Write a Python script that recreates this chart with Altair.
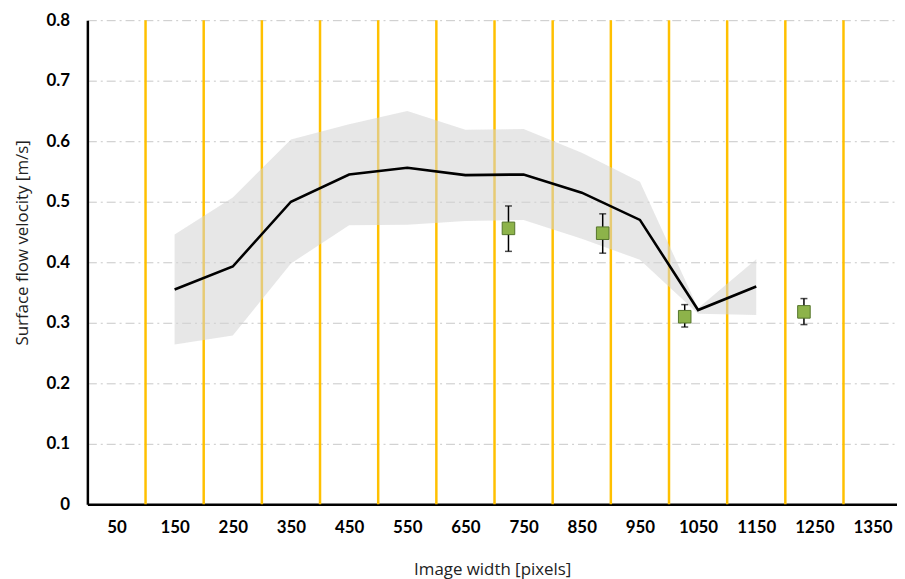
import altair as alt
import pandas as pd

# Model curve (mean with min/max band)
x_line = [150, 250, 350, 450, 550, 650, 750, 850, 950, 1050, 1150]
v_mean = [0.355, 0.393, 0.500, 0.545, 0.556, 0.544, 0.545, 0.515, 0.470, 0.321, 0.360]
v_upper = [0.446, 0.507, 0.603, 0.628, 0.650, 0.619, 0.620, 0.581, 0.533, 0.324, 0.405]
v_lower = [0.264, 0.279, 0.398, 0.461, 0.462, 0.468, 0.470, 0.439, 0.404, 0.315, 0.313]

# Measured points with error bars
x_meas = [724, 886, 1027, 1232]
v_meas = [0.456, 0.448, 0.310, 0.318]
v_meas_hi = [0.493, 0.480, 0.330, 0.340]
v_meas_lo = [0.418, 0.415, 0.293, 0.297]

# Orange section boundaries
x_bounds = [100, 200, 300, 400, 500, 600, 700, 800, 900, 1000, 1100, 1200, 1300]
x_ticks = [50, 150, 250, 350, 450, 550, 650, 750, 850, 950, 1050, 1150, 1250, 1350]
y_ticks = [0, 0.1, 0.2, 0.3, 0.4, 0.5, 0.6, 0.7, 0.8]

line_df = pd.DataFrame({"x": x_line, "mean": v_mean, "upper": v_upper, "lower": v_lower})
meas_df = pd.DataFrame({"x": x_meas, "v": v_meas, "hi": v_meas_hi, "lo": v_meas_lo})
bounds_df = pd.DataFrame({"x": x_bounds})

xscale = alt.Scale(domain=[0, 1392], nice=False, zero=False)
yscale = alt.Scale(domain=[0, 0.8], nice=False)

xaxis = alt.Axis(values=x_ticks, title="Image width [pixels]", grid=False, ticks=False,
                 labelPadding=15, titlePadding=27, format="d")
yaxis = alt.Axis(values=y_ticks, title="Surface flow velocity [m/s]", grid=True, ticks=False,
                 labelPadding=18, titlePadding=15, titleY=224,
                 labelExpr="datum.value == 0 ? '0' : format(datum.value, '.1f')")

rules = alt.Chart(bounds_df).mark_rule(color="#FFC000", strokeWidth=2.5).encode(
    x=alt.X("x:Q", scale=xscale, axis=xaxis),
)

band = alt.Chart(line_df).mark_area(color="#d4d4d4", opacity=0.55).encode(
    x=alt.X("x:Q", scale=xscale, axis=xaxis),
    y=alt.Y("upper:Q", scale=yscale, axis=yaxis),
    y2="lower:Q",
)

line = alt.Chart(line_df).mark_line(color="black", strokeWidth=2.6).encode(
    x=alt.X("x:Q", scale=xscale),
    y=alt.Y("mean:Q", scale=yscale),
)

err = alt.Chart(meas_df).mark_rule(color="black", strokeWidth=1.5).encode(
    x=alt.X("x:Q", scale=xscale),
    y=alt.Y("lo:Q", scale=yscale),
    y2="hi:Q",
)
cap_hi = alt.Chart(meas_df).mark_tick(color="black", orient="horizontal", size=7, thickness=1.5).encode(
    x=alt.X("x:Q", scale=xscale),
    y=alt.Y("hi:Q", scale=yscale),
)
cap_lo = alt.Chart(meas_df).mark_tick(color="black", orient="horizontal", size=7, thickness=1.5).encode(
    x=alt.X("x:Q", scale=xscale),
    y=alt.Y("lo:Q", scale=yscale),
)
pts = alt.Chart(meas_df).mark_point(shape="square", filled=True, size=160, fill="#8db34a",
                                    stroke="#55752a", strokeWidth=1, opacity=1).encode(
    x=alt.X("x:Q", scale=xscale),
    y=alt.Y("v:Q", scale=yscale),
)

chart = alt.layer(rules, band, line, err, cap_hi, cap_lo, pts).properties(
    width=816, height=488,
    autosize=alt.AutoSizeParams(type="none"),
    padding={"left": 80, "top": 10, "right": 0, "bottom": 75},
).configure_view(
    stroke=None
).configure_axis(
    domainColor="black", domainWidth=2.5,
    labelFont="Lato", labelFontSize=17, labelFontWeight="bold", labelColor="black",
    titleFont="Open Sans", titleFontSize=17, titleFontWeight="normal", titleColor="#222",
    gridColor="#c8c8c8", gridWidth=1, gridDash=[9, 4, 2, 4],
).configure_axisX(
    labelAngle=0
)

chart.save("out.html", embed_options={"renderer": "svg", "actions": False})
